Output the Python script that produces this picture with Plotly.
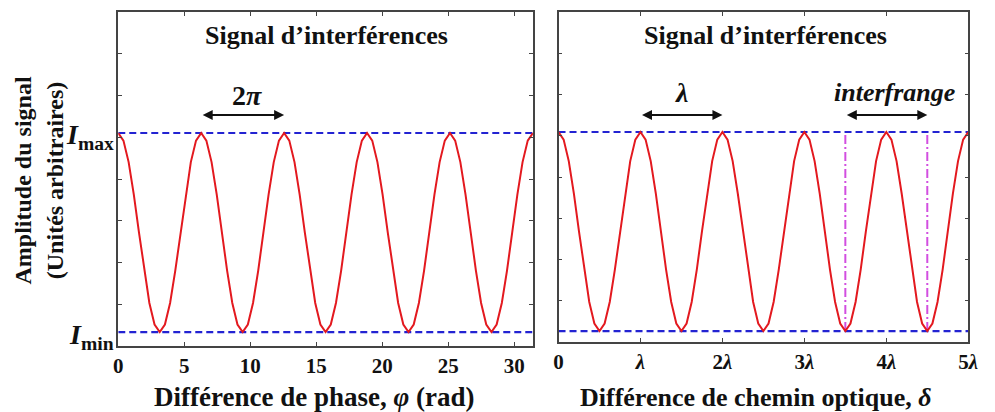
import numpy as np
import plotly.graph_objects as go

# ---- data ----
# normalised signal amplitude, one sample every pi/8 of phase (5 periods, 81 samples)
amplitude = [
    1.000, 0.962, 0.854, 0.691, 0.500, 0.309, 0.146, 0.038, 0.000, 0.038, 0.146, 0.309, 0.500, 0.691, 0.854, 0.962,
    1.000, 0.962, 0.854, 0.691, 0.500, 0.309, 0.146, 0.038, 0.000, 0.038, 0.146, 0.309, 0.500, 0.691, 0.854, 0.962,
    1.000, 0.962, 0.854, 0.691, 0.500, 0.309, 0.146, 0.038, 0.000, 0.038, 0.146, 0.309, 0.500, 0.691, 0.854, 0.962,
    1.000, 0.962, 0.854, 0.691, 0.500, 0.309, 0.146, 0.038, 0.000, 0.038, 0.146, 0.309, 0.500, 0.691, 0.854, 0.962,
    1.000, 0.962, 0.854, 0.691, 0.500, 0.309, 0.146, 0.038, 0.000, 0.038, 0.146, 0.309, 0.500, 0.691, 0.854, 0.962,
    1.000,
]
I_min = 0.0
I_max = 1.0
phase_max = 10 * np.pi          # right end of the phase axis (rad)
delta_max = 5.0                 # right end of the optical-path axis (in lambda)
phase = np.linspace(0, phase_max, len(amplitude))
delta = np.linspace(0, delta_max, len(amplitude))

phase_ticks = [0, 5, 10, 15, 20, 25, 30]
phase_ticklabels = ["0", "5", "10", "15", "20", "25", "30"]
delta_ticks = [0, 1, 2, 3, 4, 5]
delta_ticklabels = ["0", "<i>λ</i>", "2<i>λ</i>", "3<i>λ</i>", "4<i>λ</i>", "5<i>λ</i>"]

period_arrow_phase = [2 * np.pi, 4 * np.pi]
period_arrow_delta = [1, 2]
interfrange_marks = [3.5, 4.5]

title_text = "Signal d’interférences"

# ---- styling ----
SERIF = "'Liberation Serif', 'Times New Roman', Times, serif"
RED = "#e3191f"
BLUE = "#2323d2"
MAGENTA = "#d24ee0"
AXC = "#444444"
W, H = 995, 412

def px(x):
    return x / W

def py(y):
    return 1 - y / H

yr_left = [-0.070, 1.608]
yr_right = [-0.055, 1.603]

fig = go.Figure()

# left panel
fig.add_trace(go.Scatter(x=[0, phase_max], y=[I_max, I_max], mode="lines",
                         line=dict(color=BLUE, width=2.2, dash="7px,4px"), xaxis="x", yaxis="y"))
fig.add_trace(go.Scatter(x=[0, phase_max], y=[I_min, I_min], mode="lines",
                         line=dict(color=BLUE, width=2.2, dash="7px,4px"), xaxis="x", yaxis="y"))
fig.add_trace(go.Scatter(x=phase, y=amplitude, mode="lines",
                         line=dict(color=RED, width=2), xaxis="x", yaxis="y"))

# right panel
fig.add_trace(go.Scatter(x=[0, delta_max], y=[I_max, I_max], mode="lines",
                         line=dict(color=BLUE, width=2.2, dash="7px,4px"), xaxis="x2", yaxis="y2"))
fig.add_trace(go.Scatter(x=[0, delta_max], y=[I_min, I_min], mode="lines",
                         line=dict(color=BLUE, width=2.2, dash="7px,4px"), xaxis="x2", yaxis="y2"))
for xm in interfrange_marks:
    fig.add_trace(go.Scatter(x=[xm, xm], y=[I_min, I_max], mode="lines",
                             line=dict(color=MAGENTA, width=2, dash="9px,3px,2px,3px"),
                             xaxis="x2", yaxis="y2"))
fig.add_trace(go.Scatter(x=delta, y=amplitude, mode="lines",
                         line=dict(color=RED, width=2), xaxis="x2", yaxis="y2"))

axis_common = dict(showline=True, linecolor=AXC, linewidth=1.5, mirror="allticks",
                   ticks="inside", ticklen=4, tickcolor=AXC, tickwidth=1,
                   showgrid=False, zeroline=False, fixedrange=True)
tickfont = dict(family=SERIF, size=21, color="#111111", weight="bold")

fig.update_layout(
    width=W, height=H,
    margin=dict(l=0, r=0, t=0, b=0),
    paper_bgcolor="white", plot_bgcolor="white",
    showlegend=False,
    font=dict(family=SERIF),
    xaxis=dict(domain=[px(115), px(536)], range=[0, phase_max], tickvals=phase_ticks,
               ticktext=phase_ticklabels, tickfont=tickfont, anchor="y", **axis_common),
    yaxis=dict(domain=[py(346), py(12)], range=yr_left,
               tickvals=list(np.linspace(yr_left[0], yr_left[1], 9)),
               showticklabels=False, anchor="x", **axis_common),
    xaxis2=dict(domain=[px(562), px(978)], range=[0, delta_max], tickvals=delta_ticks,
                ticktext=delta_ticklabels, tickfont=tickfont, anchor="y2", **axis_common),
    yaxis2=dict(domain=[py(342), py(12)], range=yr_right,
                tickvals=list(np.linspace(yr_right[0], yr_right[1], 9)),
                showticklabels=False, anchor="x2", **axis_common),
)

ann_font = dict(family=SERIF, color="#111111", weight="bold")

def ann(text, x, y, size, xref="paper", yref="paper", xanchor="center", **kw):
    fig.add_annotation(text=text, x=x, y=y, xref=xref, yref=yref, showarrow=False,
                       xanchor=xanchor, yanchor="middle",
                       font=dict(size=size, **ann_font), **kw)

# titles inside panels
ann(title_text, px(326), py(36), 26)
ann(title_text, px(772), py(36), 26)

# x-axis titles
ann("Différence de phase, <i>φ</i> (rad)", px(314), py(397), 27)
ann("Différence de chemin optique, <i>δ</i>", px(762), py(397), 26)

# y-axis title
ann("Amplitude du signal<br>(Unités arbitraires)", px(34), py(180), 24, textangle=-90)

# I_max / I_min labels
ann("<i>I</i><sub>max</sub>", px(113), py(137), 28, xanchor="right")
ann("<i>I</i><sub>min</sub>", px(113), py(336), 28, xanchor="right")

# period arrows
def double_arrow(x0, x1, y, xref, yref):
    fig.add_annotation(x=x1, y=y, ax=x0, ay=y, xref=xref, yref=yref, axref=xref, ayref=yref,
                       text="", showarrow=True, arrowhead=2, arrowside="end+start",
                       arrowsize=1, arrowwidth=2, arrowcolor="#111111")

double_arrow(period_arrow_phase[0], period_arrow_phase[1], 1.09, "x", "y")
double_arrow(period_arrow_delta[0], period_arrow_delta[1], 1.085, "x2", "y2")
double_arrow(interfrange_marks[0], interfrange_marks[1], 1.085, "x2", "y2")

ann("2<i>π</i>", (period_arrow_phase[0] + period_arrow_phase[1]) / 2 + 0.3, 1.19, 28, xref="x", yref="y")
ann("<i>λ</i>", (period_arrow_delta[0] + period_arrow_delta[1]) / 2, 1.2, 28, xref="x2", yref="y2")
ann("<i>interfrange</i>", 4.1, 1.2, 26, xref="x2", yref="y2")

fig.write_html("out.html", config={"displayModeBar": False},
               post_script="document.body.style.margin='0';document.body.style.overflow='hidden';")
